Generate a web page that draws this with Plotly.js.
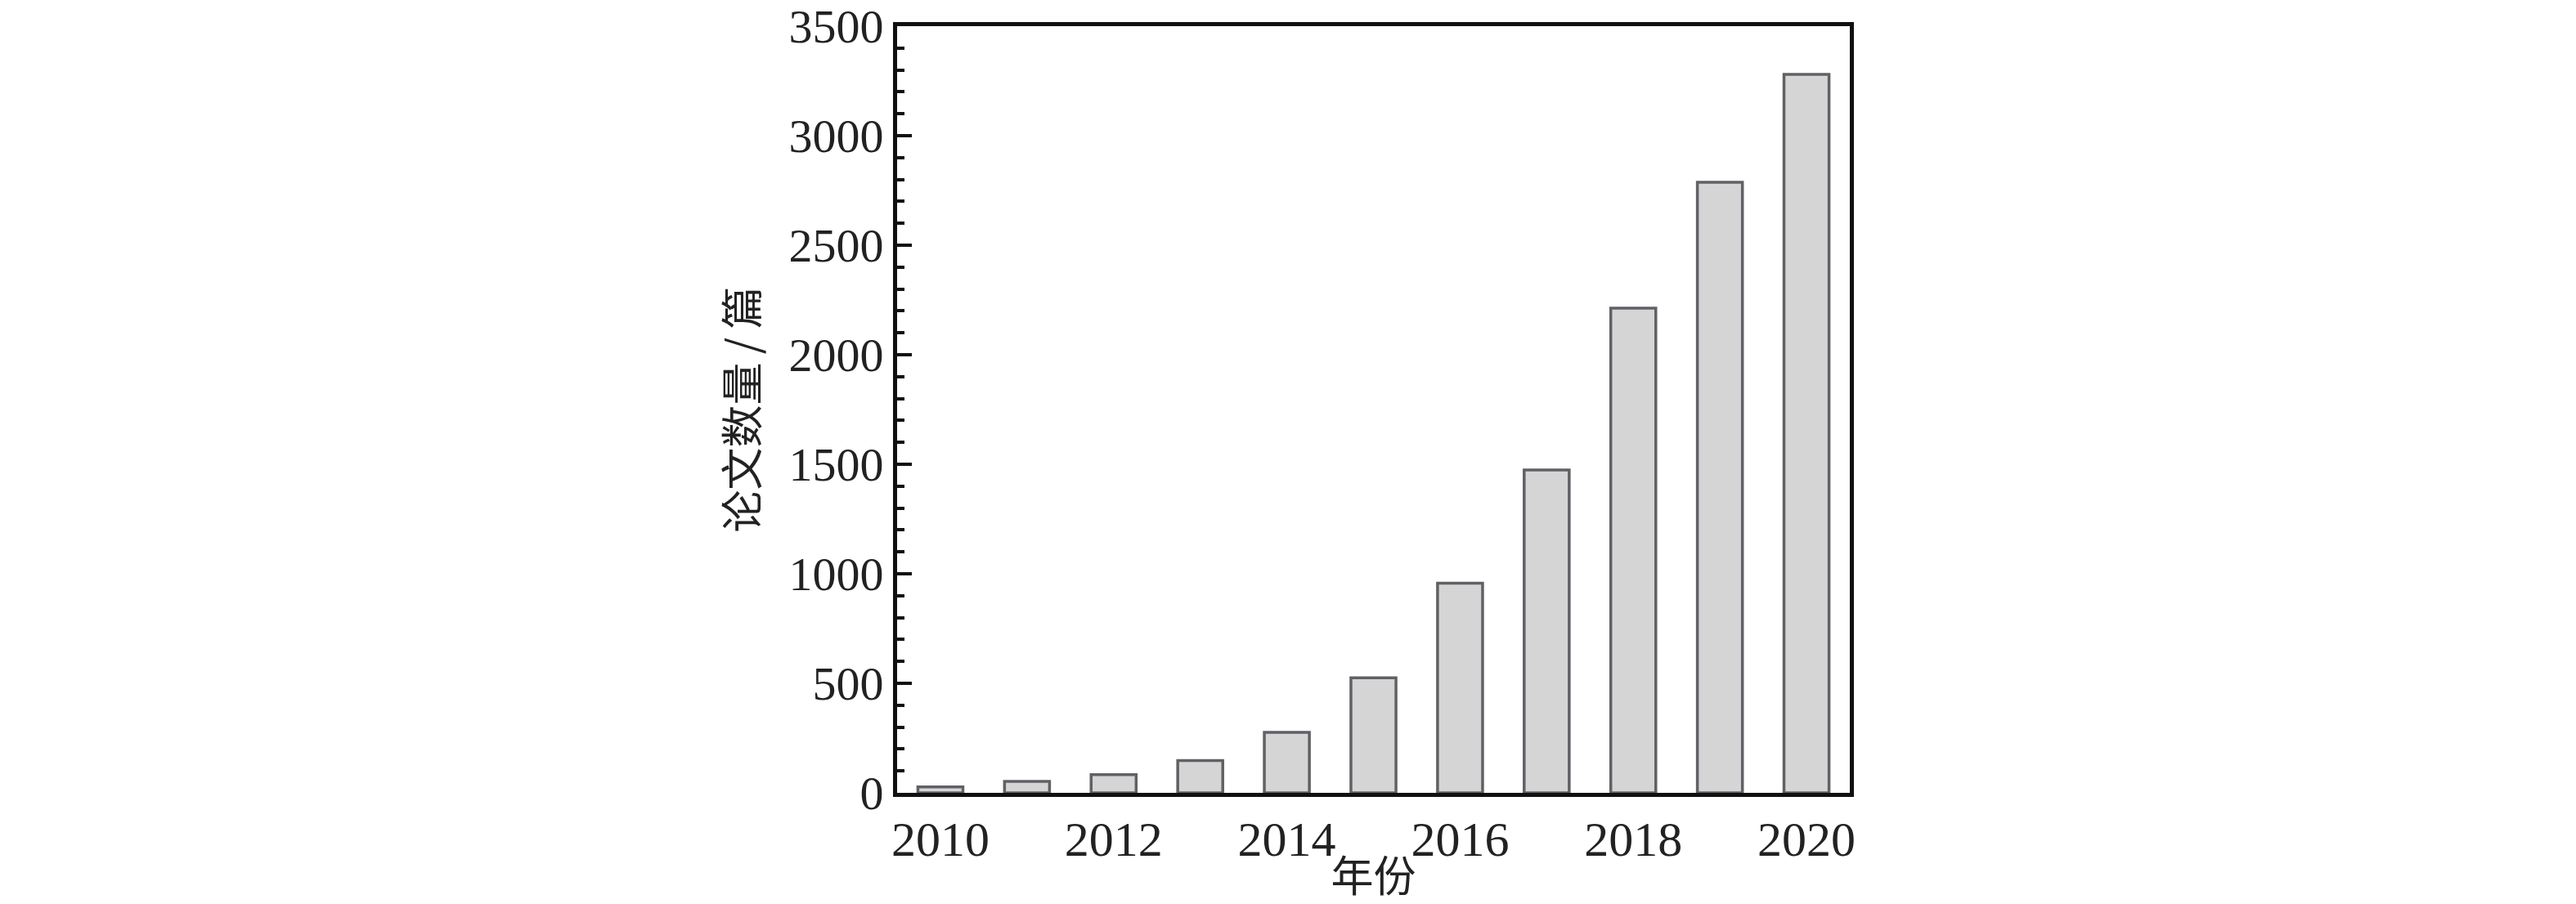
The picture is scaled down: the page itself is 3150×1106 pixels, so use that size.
<!DOCTYPE html>
<html>
<head>
<meta charset="utf-8">
<script src="https://cdn.plot.ly/plotly-3.0.1.min.js"></script>
<style>html,body{margin:0;padding:0;background:#fff;}#chart{width:3150px;height:1106px;}</style>
</head>
<body>
<div id="chart"></div>
<script>
// Data
const years = [2010, 2011, 2012, 2013, 2014, 2015, 2016, 2017, 2018, 2019, 2020];
const paperCounts = [27, 52, 83, 147, 276, 525, 957, 1474, 2213, 2787, 3280];
const xTickVals = [2010, 2012, 2014, 2016, 2018, 2020];
const xTickText = ["2010", "2012", "2014", "2016", "2018", "2020"];
const yTickVals = [0, 500, 1000, 1500, 2000, 2500, 3000, 3500];
const xTitle = "年份";
const yTitle = "论文数量\u2009/\u2009篇";

const serif = "Liberation Serif, Times New Roman, serif";
const cjk = "Noto Sans CJK SC, Noto Sans, sans-serif";

const trace = {
  type: "bar",
  x: years,
  y: paperCounts,
  width: 0.52,
  marker: {color: "#d5d5d5", line: {color: "#606166", width: 3.5}},
  hoverinfo: "x+y"
};

const layout = {
  width: 3150,
  height: 1106,
  margin: {l: 1097, r: 888, t: 32, b: 136, pad: 0},
  paper_bgcolor: "#ffffff",
  plot_bgcolor: "#ffffff",
  showlegend: false,
  xaxis: {
    range: [2009.5, 2020.5],
    tickmode: "array",
    tickvals: xTickVals,
    ticktext: xTickText,
    ticks: "",
    showgrid: false,
    zeroline: false,
    showline: true,
    linecolor: "#111111",
    linewidth: 5,
    mirror: true,
    tickfont: {family: serif, size: 60, color: "#222222"},
    title: {text: xTitle, font: {family: cjk, size: 52, color: "#222222"}, standoff: 6}
  },
  yaxis: {
    range: [0, 3500],
    tickmode: "array",
    tickvals: yTickVals,
    ticks: "inside",
    ticklen: 18,
    tickwidth: 4,
    tickcolor: "#111111",
    minor: {dtick: 100, ticks: "inside", ticklen: 9, tickwidth: 4, tickcolor: "#111111", showgrid: false},
    showgrid: false,
    zeroline: false,
    showline: true,
    linecolor: "#111111",
    linewidth: 5,
    mirror: true,
    tickfont: {family: serif, size: 58, color: "#222222"},
    title: {text: yTitle, font: {family: cjk, size: 52, color: "#222222"}, standoff: 22}
  }
};

Plotly.newPlot("chart", [trace], layout, {staticPlot: true, displayModeBar: false});
</script>
</body>
</html>
